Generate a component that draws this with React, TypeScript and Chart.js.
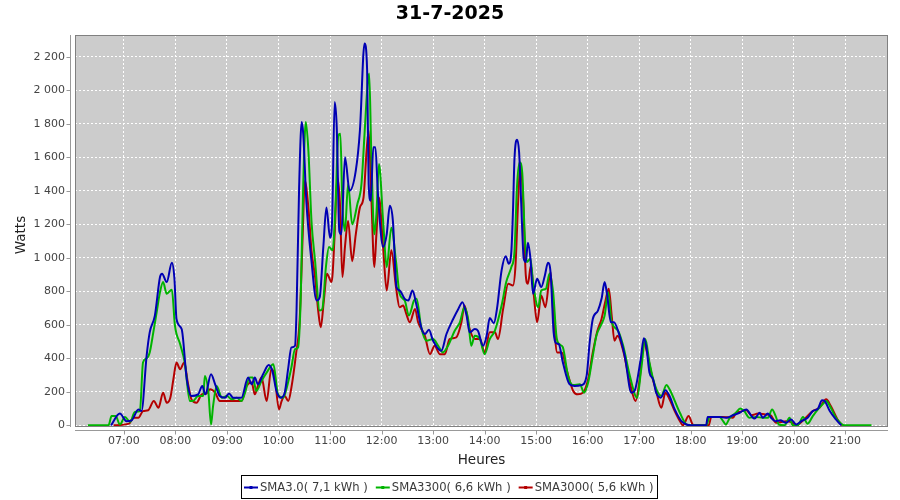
import React, { useEffect, useRef } from "react";
import { Chart, registerables } from "chart.js";

Chart.register(...registerables);

const TITLE = "31-7-2025";
const X_LABEL = "Heures";
const Y_LABEL = "Watts";
const HOUR_TICKS = [7, 8, 9, 10, 11, 12, 13, 14, 15, 16, 17, 18, 19, 20, 21];
const WATT_TICKS = [0, 200, 400, 600, 800, 1000, 1200, 1400, 1600, 1800, 2000, 2200];
const SERIES_NAMES = ["SMA3.0( 7,1 kWh )", "SMA3300( 6,6 kWh )", "SMA3000( 5,6 kWh )"];
const SERIES_COLORS = ["#0000b4", "#00b400", "#b40000"];

const blueHours = [
  6.75, 6.92, 7.05, 7.15, 7.28, 7.34, 7.44, 7.5, 7.6, 7.7, 7.74, 7.83, 7.93, 7.98, 8.02, 8.12, 8.22, 8.31, 8.44, 8.52,
  8.58, 8.69, 8.77, 8.86, 8.96, 9.04, 9.12, 9.28, 9.41, 9.48, 9.54, 9.6, 9.7, 9.81, 9.88, 9.96, 10.04, 10.12, 10.19, 10.25,
  10.32, 10.35, 10.4, 10.45, 10.48, 10.54, 10.64, 10.74, 10.8, 10.87, 10.93, 11.0, 11.04, 11.09, 11.13, 11.18, 11.22, 11.29, 11.38, 11.5,
  11.58, 11.67, 11.72, 11.75, 11.79, 11.84, 11.88, 11.93, 12.03, 12.1, 12.16, 12.22, 12.29, 12.35, 12.45, 12.52, 12.6, 12.68, 12.78, 12.84,
  12.92, 13.0, 13.16, 13.26, 13.39, 13.49, 13.57, 13.65, 13.71, 13.81, 13.87, 13.97, 14.04, 14.1, 14.18, 14.24, 14.33, 14.41, 14.47, 14.52,
  14.55, 14.58, 14.63, 14.67, 14.71, 14.76, 14.8, 14.84, 14.89, 14.94, 15.02, 15.1, 15.17, 15.23, 15.28, 15.34, 15.39, 15.44, 15.52, 15.65,
  15.75, 15.88, 15.98, 16.04, 16.1, 16.2, 16.27, 16.33, 16.38, 16.45, 16.51, 16.6, 16.72, 16.85, 16.91, 17.03, 17.09, 17.14, 17.2, 17.27,
  17.33, 17.42, 17.51, 17.59, 17.69, 17.82, 17.92, 18.0, 18.3, 18.33, 18.56, 18.69, 18.82, 18.95, 19.08, 19.18, 19.24, 19.34, 19.4, 19.5,
  19.56, 19.65, 19.74, 19.85, 19.95, 20.05, 20.15, 20.27, 20.37, 20.47, 20.55, 20.6, 20.7, 20.82, 20.92,
];
const blueWatts = [
  0, 70, 25, 30, 95, 85, 415, 555, 655, 885, 905, 855, 970, 875, 635, 575, 275, 175, 185, 235,
  185, 305, 245, 175, 165, 190, 165, 165, 285, 245, 285, 245, 305, 360, 325, 205, 165, 195, 345, 465,
  475, 685, 1420, 1810, 1740, 1340, 980, 745, 765, 1065, 1300, 1120, 1220, 1930, 1780, 1160, 1140, 1600, 1400, 1520,
  1760, 2280, 2120, 1440, 1340, 1660, 1660, 1380, 1065, 1140, 1310, 1220, 825, 805, 755, 745, 805, 715, 575, 545,
  570, 505, 445, 545, 635, 695, 735, 655, 555, 575, 565, 475, 535, 640, 610, 695, 925, 1010, 965, 1040,
  1270, 1590, 1705, 1630, 1330, 995, 975, 1090, 995, 785, 875, 825, 895, 970, 915, 555, 490, 485, 375, 245,
  235, 240, 295, 495, 635, 685, 755, 855, 775, 615, 615, 555, 415, 195, 205, 395, 520, 470, 315, 275,
  195, 165, 210, 175, 95, 25, 5, 0, 0, 50, 50, 45, 60, 75, 95, 55, 40, 75, 45, 70,
  45, 25, 30, 15, 35, 5, 25, 45, 85, 100, 150, 145, 85, 35, 0,
];

const greenHours = [
  6.3, 6.7, 6.76, 6.84, 6.92, 7.02, 7.12, 7.21, 7.31, 7.37, 7.44, 7.5, 7.57, 7.63, 7.7, 7.76, 7.83, 7.93, 7.99, 8.09,
  8.18, 8.28, 8.34, 8.44, 8.54, 8.57, 8.64, 8.69, 8.73, 8.8, 8.9, 9.0, 9.09, 9.19, 9.28, 9.35, 9.44, 9.5, 9.57, 9.67,
  9.77, 9.9, 9.99, 10.09, 10.16, 10.25, 10.32, 10.38, 10.43, 10.48, 10.53, 10.58, 10.64, 10.71, 10.8, 10.85, 10.92, 10.98, 11.05, 11.11,
  11.16, 11.2, 11.24, 11.29, 11.35, 11.43, 11.53, 11.61, 11.67, 11.73, 11.76, 11.8, 11.86, 11.9, 11.95, 12.03, 12.1, 12.19, 12.28, 12.35,
  12.45, 12.53, 12.63, 12.68, 12.77, 12.87, 13.0, 13.1, 13.19, 13.29, 13.42, 13.52, 13.61, 13.68, 13.74, 13.81, 13.91, 14.0, 14.1, 14.2,
  14.33, 14.42, 14.52, 14.58, 14.63, 14.68, 14.73, 14.78, 14.82, 14.89, 14.94, 15.04, 15.1, 15.19, 15.26, 15.33, 15.4, 15.47, 15.52, 15.62,
  15.72, 15.85, 15.93, 16.01, 16.1, 16.17, 16.27, 16.33, 16.4, 16.46, 16.59, 16.69, 16.82, 16.96, 17.04, 17.12, 17.2, 17.3, 17.43, 17.53,
  17.59, 17.79, 17.92, 18.0, 18.3, 18.37, 18.56, 18.63, 18.68, 18.76, 18.88, 18.96, 19.04, 19.14, 19.27, 19.4, 19.5, 19.58, 19.65, 19.71,
  19.82, 19.92, 19.98, 20.08, 20.18, 20.27, 20.37, 20.47, 20.56, 20.63, 20.72, 20.82, 20.92, 20.98, 21.51,
];
const greenWatts = [
  0, 0, 55, 55, 5, 50, 20, 80, 85, 375, 400, 435, 555, 665, 795, 855, 785, 810, 595, 485,
  375, 145, 145, 175, 175, 295, 195, 5, 115, 235, 165, 175, 155, 165, 145, 195, 285, 285, 205, 265,
  315, 365, 185, 165, 225, 345, 455, 465, 745, 1440, 1810, 1640, 1220, 980, 685, 695, 945, 1065, 1045, 1340,
  1730, 1740, 1320, 1160, 1440, 1200, 1320, 1440, 1740, 2040, 2100, 1640, 1140, 1260, 1560, 1220, 945, 1180, 980, 785,
  745, 655, 745, 755, 585, 505, 515, 475, 435, 475, 565, 615, 705, 635, 475, 535, 515, 425, 515, 565,
  715, 855, 945, 1035, 1430, 1570, 1510, 1130, 975, 995, 855, 705, 805, 815, 905, 795, 520, 480, 465, 295,
  240, 245, 195, 255, 415, 535, 605, 655, 795, 625, 565, 475, 295, 165, 335, 515, 375, 245, 175, 240,
  215, 75, 5, 0, 0, 50, 50, 25, 5, 45, 75, 100, 85, 45, 50, 45, 45, 95, 55, 5,
  0, 45, 0, 0, 50, 10, 55, 95, 125, 145, 105, 45, 10, 0, 0,
];

const redHours = [
  6.8, 7.1, 7.18, 7.28, 7.37, 7.47, 7.58, 7.67, 7.76, 7.83, 7.9, 7.96, 8.02, 8.09, 8.17, 8.24, 8.31, 8.41, 8.51, 8.6,
  8.67, 8.77, 8.86, 8.96, 9.15, 9.28, 9.38, 9.48, 9.54, 9.6, 9.67, 9.77, 9.86, 9.92, 10.01, 10.06, 10.12, 10.19, 10.25, 10.34,
  10.41, 10.47, 10.51, 10.58, 10.64, 10.71, 10.77, 10.82, 10.88, 10.94, 11.03, 11.09, 11.14, 11.19, 11.24, 11.29, 11.35, 11.43, 11.5, 11.58,
  11.65, 11.71, 11.75, 11.8, 11.86, 11.9, 11.95, 12.03, 12.1, 12.19, 12.28, 12.35, 12.42, 12.48, 12.55, 12.65, 12.71, 12.84, 12.94, 13.03,
  13.13, 13.23, 13.32, 13.45, 13.55, 13.61, 13.71, 13.81, 13.91, 14.0, 14.1, 14.2, 14.26, 14.36, 14.46, 14.55, 14.6, 14.65, 14.69, 14.75,
  14.8, 14.84, 14.9, 14.95, 15.02, 15.1, 15.18, 15.28, 15.34, 15.41, 15.5, 15.59, 15.72, 15.81, 15.91, 16.01, 16.1, 16.19, 16.27, 16.34,
  16.41, 16.47, 16.52, 16.58, 16.69, 16.82, 16.93, 17.01, 17.09, 17.16, 17.24, 17.33, 17.43, 17.51, 17.59, 17.69, 17.81, 17.85, 17.96, 18.04,
  18.1, 18.35, 18.4, 18.6, 18.82, 18.88, 18.95, 19.08, 19.18, 19.31, 19.45, 19.55, 19.66, 19.75, 19.85, 19.95, 20.05, 20.2, 20.37, 20.5,
  20.63, 20.72, 20.85, 20.94,
];
const redWatts = [
  0, 10, 45, 45, 85, 90, 145, 105, 195, 135, 165, 275, 375, 335, 375, 255, 155, 135, 185, 190,
  215, 195, 145, 145, 145, 145, 235, 255, 185, 235, 285, 145, 335, 305, 95, 145, 175, 145, 225, 425,
  625, 1140, 1460, 1300, 1045, 885, 685, 585, 745, 905, 855, 1140, 1480, 1340, 885, 1065, 1220, 980, 1140, 1300,
  1360, 1640, 1760, 1380, 945, 1140, 1360, 1065, 805, 1045, 825, 705, 715, 665, 615, 695, 615, 535, 425, 475,
  425, 425, 515, 525, 615, 715, 575, 515, 515, 435, 555, 555, 515, 695, 845, 835, 955, 1330, 1550, 1330,
  895, 845, 955, 795, 615, 775, 705, 915, 635, 435, 435, 335, 205, 185, 195, 275, 435, 565, 635, 735,
  815, 645, 505, 535, 445, 255, 145, 275, 495, 425, 305, 205, 105, 195, 155, 85, 15, 0, 55, 5,
  0, 0, 50, 50, 45, 75, 80, 90, 60, 70, 65, 60, 15, 20, 25, 20, 0, 35, 85, 105,
  155, 115, 35, 0,
];

const X_MIN = 6.05;
const X_MAX = 21.83;
const Y_MIN = -10;
const Y_MAX = 2330;

const FONT = "'DejaVu Sans', sans-serif";

function pairs(hours: number[], watts: number[]) {
  return hours.map((h, i) => ({ x: h, y: watts[i] }));
}

function hourLabel(v: number) {
  const h = Math.floor(v);
  return (h < 10 ? "0" : "") + h + ":00";
}

function wattLabel(v: number) {
  if (v >= 1000) {
    const th = Math.floor(v / 1000);
    const rest = String(v % 1000).padStart(3, "0");
    return th + " " + rest;
  }
  return String(v);
}

const decorPlugin = {
  id: "decor",
  beforeDraw(chart: any) {
    const { ctx, chartArea } = chart;
    ctx.save();
    ctx.fillStyle = "#ffffff";
    ctx.fillRect(0, 0, chart.width, chart.height);
    ctx.fillStyle = "#cccccc";
    ctx.fillRect(chartArea.left, chartArea.top, chartArea.right - chartArea.left, chartArea.bottom - chartArea.top);
    ctx.restore();
  },
  afterDraw(chart: any) {
    const { ctx, chartArea } = chart;
    const xs = chart.scales.x;
    const ys = chart.scales.y;
    ctx.save();
    // plot outline
    ctx.strokeStyle = "#808080";
    ctx.lineWidth = 1;
    ctx.strokeRect(chartArea.left + 0.5, chartArea.top + 0.5, chartArea.right - chartArea.left - 1, chartArea.bottom - chartArea.top - 1);
    // offset axis lines
    ctx.strokeStyle = "#999999";
    ctx.beginPath();
    const axX = chartArea.left - 4.5;
    ctx.moveTo(axX, chartArea.top);
    ctx.lineTo(axX, chartArea.bottom);
    WATT_TICKS.forEach((v) => {
      const py = Math.round(ys.getPixelForValue(v)) + 0.5;
      ctx.moveTo(axX - 4, py);
      ctx.lineTo(axX, py);
    });
    const axY = chartArea.bottom + 3.5;
    ctx.moveTo(chartArea.left, axY);
    ctx.lineTo(chartArea.right, axY);
    HOUR_TICKS.forEach((v) => {
      const px = Math.round(xs.getPixelForValue(v)) + 0.5;
      ctx.moveTo(px, axY);
      ctx.lineTo(px, axY + 4);
    });
    ctx.stroke();

    // title
    ctx.fillStyle = "#000000";
    ctx.font = "bold 19px " + FONT;
    ctx.textAlign = "center";
    ctx.textBaseline = "middle";
    ctx.fillText(TITLE, 450, 14);

    // axis titles
    ctx.fillStyle = "#222222";
    ctx.font = "13.5px " + FONT;
    ctx.fillText(X_LABEL, (chartArea.left + chartArea.right) / 2, 460);
    ctx.save();
    ctx.translate(21, (chartArea.top + chartArea.bottom) / 2 + 4);
    ctx.rotate(-Math.PI / 2);
    ctx.fillText(Y_LABEL, 0, 0);
    ctx.restore();

    // legend
    ctx.font = "11.6px " + FONT;
    const lineW = 14;
    const gapLT = 2;
    const gapItems = 8;
    const widths = SERIES_NAMES.map((n) => ctx.measureText(n).width);
    const total = widths.reduce((a, w) => a + lineW + gapLT + w, 0) + gapItems * (SERIES_NAMES.length - 1);
    const padL = 2;
    const padR = 4;
    const boxW = Math.round(total + padL + padR);
    const boxL = Math.round(449 - boxW / 2);
    const boxT = 475;
    const boxH = 23;
    ctx.strokeStyle = "#000000";
    ctx.lineWidth = 1;
    ctx.strokeRect(boxL + 0.5, boxT + 0.5, boxW, boxH);
    let cx = boxL + 1 + padL;
    const cy = boxT + boxH / 2 + 1;
    ctx.textAlign = "left";
    ctx.textBaseline = "middle";
    SERIES_NAMES.forEach((n, i) => {
      ctx.strokeStyle = SERIES_COLORS[i];
      ctx.fillStyle = SERIES_COLORS[i];
      ctx.lineWidth = 2;
      ctx.beginPath();
      ctx.moveTo(cx, cy);
      ctx.lineTo(cx + lineW, cy);
      ctx.stroke();
      ctx.fillRect(cx + lineW / 2 - 1.5, cy - 1.5, 3, 3);
      cx += lineW + gapLT;
      ctx.fillStyle = "#3a3a3a";
      ctx.fillText(n, cx, cy);
      cx += widths[i] + gapItems;
    });
    ctx.restore();
  },
};

export default function App() {
  const canvasRef = useRef<HTMLCanvasElement | null>(null);

  useEffect(() => {
    document.body.style.margin = "0";
    const canvas = canvasRef.current;
    if (!canvas) return;
    const chart = new Chart(canvas, {
      type: "line",
      data: {
        datasets: [
          { label: SERIES_NAMES[0], data: pairs(blueHours, blueWatts), borderColor: SERIES_COLORS[0], backgroundColor: SERIES_COLORS[0] },
          { label: SERIES_NAMES[1], data: pairs(greenHours, greenWatts), borderColor: SERIES_COLORS[1], backgroundColor: SERIES_COLORS[1] },
          { label: SERIES_NAMES[2], data: pairs(redHours, redWatts), borderColor: SERIES_COLORS[2], backgroundColor: SERIES_COLORS[2] },
        ],
      },
      options: {
        animation: false,
        responsive: false,
        devicePixelRatio: 1,
        parsing: false,
        layout: { padding: { left: 0, right: 12, top: 35, bottom: 33 } },
        elements: {
          line: { borderWidth: 2, tension: 0.4, cubicInterpolationMode: "monotone", fill: false },
          point: { radius: 0, hoverRadius: 0 },
        },
        plugins: {
          legend: { display: false },
          title: { display: false },
          tooltip: { enabled: false },
        },
        scales: {
          x: {
            type: "linear",
            min: X_MIN,
            max: X_MAX,
            afterFit: (s: any) => {
              s.height = 40;
            },
            afterBuildTicks: (s: any) => {
              s.ticks = HOUR_TICKS.map((v) => ({ value: v }));
            },
            ticks: {
              autoSkip: false,
              maxRotation: 0,
              padding: 8,
              color: "#444444",
              font: { family: FONT, size: 11 },
              callback: (v: any) => hourLabel(Number(v)),
            },
            grid: { color: "#ffffff", lineWidth: 1, drawTicks: false },
            border: { display: false, dash: [2, 2] },
          },
          y: {
            type: "linear",
            min: Y_MIN,
            max: Y_MAX,
            afterFit: (s: any) => {
              s.width = 75;
            },
            afterBuildTicks: (s: any) => {
              s.ticks = WATT_TICKS.map((v) => ({ value: v }));
            },
            ticks: {
              padding: 10,
              color: "#444444",
              font: { family: FONT, size: 11 },
              callback: (v: any) => wattLabel(Number(v)),
            },
            grid: { color: "#ffffff", lineWidth: 1, drawTicks: false },
            border: { display: false, dash: [2, 2] },
          },
        },
      },
      plugins: [decorPlugin],
    });
    return () => chart.destroy();
  }, []);

  return (
    <div style={{ position: "absolute", left: 0, top: 0, width: 900, height: 500, background: "#ffffff" }}>
      <canvas ref={canvasRef} width={900} height={500} style={{ display: "block" }} />
    </div>
  );
}
